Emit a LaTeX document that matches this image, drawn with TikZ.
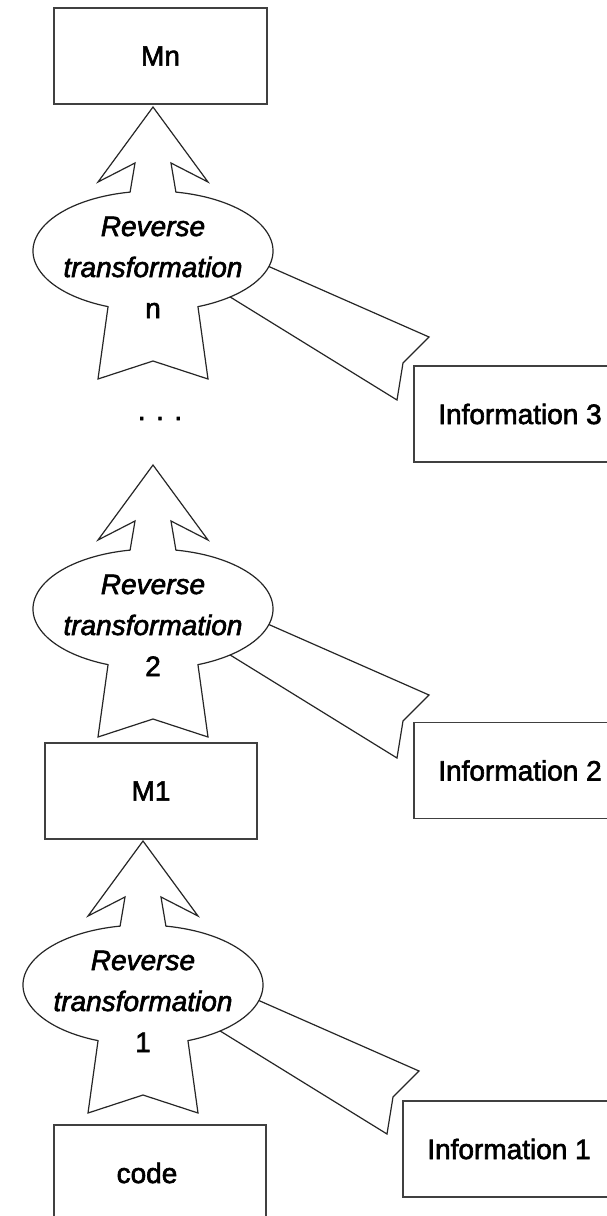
\documentclass[tikz,border=0pt]{standalone}
\usepackage{fontspec}
\setmainfont{Liberation Sans}[FakeBold=2.2]
\newcommand\labelfont{\fontsize{28}{34}\selectfont}
\tikzset{
  outline/.style={draw=black!85, line width=1.2pt, line join=miter, fill=white},
  band/.style={draw=black!85, line width=1.2pt, line join=miter},
  box/.style={draw=black!75, line width=1.8pt, rectangle, inner sep=0pt,
              minimum width=212pt, minimum height=96pt, font=\labelfont},
  lbl/.style={font=\labelfont, inner sep=0pt, anchor=base},
}
% One reverse-transformation step: arrow head on top, ellipse body,
% star-like foot, and a ribbon leading off to the information box.
% #1 name, #2 x, #3 y (downwards), #4 step label
\newcommand\revstep[4]{%
  \begin{scope}[shift={(#2,-#3)}]
    \draw[outline] (0,144) -- (55,69) -- (18,88) -- (79:120 and 60)
      arc[start angle=79, end angle=-68, x radius=120, y radius=60]
      -- (55,-128) -- (0,-110) -- (-55,-128) -- (248:120 and 60)
      arc[start angle=248, end angle=101, x radius=120, y radius=60]
      -- (-18,88) -- (-55,69) -- cycle;
    \draw[band] (-15:120 and 60) -- (276,-86) -- (250,-112) -- (244,-149)
      -- (-50:120 and 60);
    \node[lbl, font=\labelfont\itshape] (#1-a) at (0,15) {Reverse};
    \node[lbl, font=\labelfont\itshape] (#1-b) at (0,-26) {transformation};
    \node[lbl] (#1-c) at (0,-67) {#4};
  \end{scope}}
\begin{document}
\begin{tikzpicture}[x=1pt, y=1pt]
  \useasboundingbox (0,0) rectangle (607,-1216);
  \fill[white] (0,0) rectangle (607,-1216);
  \clip (0,0) rectangle (607,-1216);

  % model boxes along the left column
  \node[box, minimum width=213pt] (mn) at (160.5,-56) {Mn};
  \node[box] (m1) at (151,-791) {M1};
  \node[box] (code) at (160,-1173) {\hspace*{-26pt}code};

  % information boxes on the right
  \node[box] (info3) at (520,-414) {Information 3};
  \node[box] (info2) at (520,-770.5) {Information 2};
  \node[box] (info1) at (509,-1149) {Information 1};

  % the transformation steps
  \revstep{rtn}{153}{251}{n}
  \revstep{rt2}{153}{609}{2}
  \revstep{rt1}{143}{985}{1}

  % elided steps
  \node[lbl] (dots) at (160,-420) {. . .};
\end{tikzpicture}
\end{document}
